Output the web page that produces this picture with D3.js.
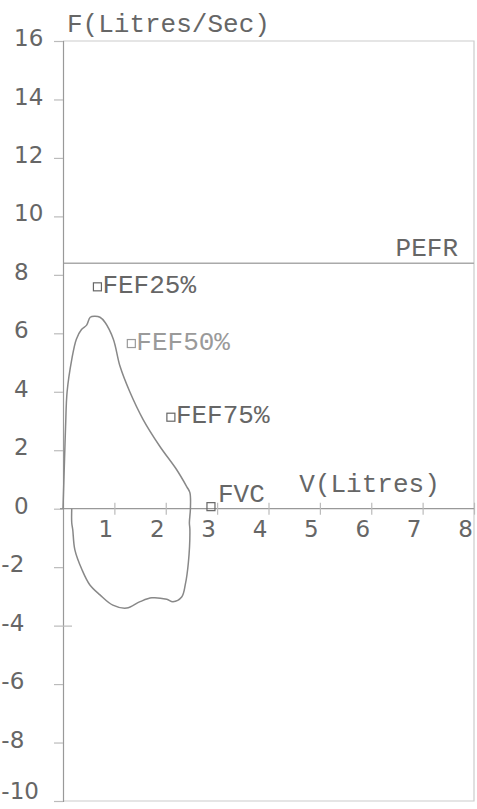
<!DOCTYPE html>
<html>
<head>
<meta charset="utf-8">
<script src="https://cdn.jsdelivr.net/npm/d3@7"></script>
<style>
  html, body { margin: 0; padding: 0; background: #fff; }
  svg { display: block; }
</style>
</head>
<body>
<div id="chart"></div>
<script>
// ---- data ----
const xTicks = [1, 2, 3, 4, 5, 6, 7, 8];
const yTicks = [16, 14, 12, 10, 8, 6, 4, 2, 0, -2, -4, -6, -8, -10];
const xDomain = [0, 8];
const yDomain = [-10, 16];

// expiratory limb (V litres, F litres/sec)
const expV = [0, 0.03, 0.05, 0.08, 0.17, 0.26, 0.36, 0.46, 0.53, 0.62, 0.72, 0.82, 0.98, 1.11, 1.30, 1.56, 1.89, 2.21, 2.41, 2.47, 2.48];
const expF = [0, 1.7, 2.8, 4.0, 5.1, 5.8, 6.13, 6.28, 6.55, 6.58, 6.55, 6.37, 5.8, 4.87, 4.0, 3.05, 2.12, 1.34, 0.75, 0.55, 0];
// inspiratory limb
const inspV = [2.48, 2.46, 2.47, 2.44, 2.38, 2.31, 2.14, 2.02, 1.73, 1.50, 1.24, 0.97, 0.72, 0.52, 0.37, 0.23, 0.19, 0.17, 0.17];
const inspF = [0, -0.48, -0.72, -1.85, -2.6, -3.02, -3.18, -3.1, -3.05, -3.18, -3.4, -3.3, -2.95, -2.6, -2.09, -1.4, -0.72, -0.48, 0];

const pefr = 8.4;
const markerNames = ["FEF25%", "FEF50%", "FEF75%", "FVC"];
const markerV = [0.67, 1.33, 2.10, 2.88];
const markerF = [7.59, 5.65, 3.13, 0.07];

// ---- drawing ----
const W = 477, H = 809;
const svg = d3.select("#chart").append("svg").attr("width", W).attr("height", H);

const x = d3.scaleLinear().domain(xDomain).range([63, 474]);
const y = d3.scaleLinear().domain(yDomain).range([801, 41]);

const textCol = "#666";
const mono = "'Liberation Mono', 'Courier New', monospace";
const sans = "'DejaVu Sans', sans-serif";
const monoSize = "26px";

// frame (top, right, bottom)
svg.append("path")
  .attr("d", `M${x(0)},${y(16)}H${x(8)}V${y(-10)}H${x(0)}`)
  .attr("fill", "none").attr("stroke", "#ccc").attr("stroke-width", 1.2);

// PEFR line
svg.append("line")
  .attr("x1", x(0)).attr("x2", x(8))
  .attr("y1", y(pefr)).attr("y2", y(pefr))
  .attr("stroke", "#aaa").attr("stroke-width", 1.5);

// Y axis
const yAxis = d3.axisLeft(y).tickValues(yTicks).tickSize(9).tickPadding(10)
  .tickFormat(d => (d < 0 ? "-" : "") + Math.abs(d));
const gy = svg.append("g").attr("transform", `translate(${x(0)},0)`).call(yAxis);
gy.select(".domain").attr("stroke", "#999").attr("stroke-width", 1.2);
gy.selectAll(".tick line").attr("stroke", "#bbb").attr("stroke-width", 1.2)
  .attr("x2", d => d === -4 ? 9 : -9).attr("x1", d => d === -4 ? -9 : 0);
gy.selectAll(".tick text")
  .attr("text-anchor", "start")
  .attr("x", 14 - x(0))
  .attr("dx", d => d < 0 ? "-0.55em" : 0)
  .attr("dy", d => d === yDomain[0] ? "-0.12em" : "0.2em")
  .attr("fill", "#666")
  .style("font-family", sans).style("font-size", "23px");

// X axis
const xAxis = d3.axisBottom(x).tickValues(xTicks).tickSize(6).tickPadding(5)
  .tickFormat(d => String(d));
const gx = svg.append("g").attr("transform", `translate(0,${y(0)})`).call(xAxis);
gx.select(".domain").attr("d", `M${x(0) - 3},0H${x(8)}`).attr("stroke", "#999").attr("stroke-width", 1.2);
gx.selectAll(".tick line").attr("y1", -6).attr("y2", 6).attr("stroke", "#bbb").attr("stroke-width", 1.2);
gx.selectAll(".tick text")
  .attr("x", -9).attr("y", 11).attr("dy", "0.75em")
  .attr("fill", "#666")
  .style("font-family", sans).style("font-size", "23px");

// flow-volume curve
const pts = expV.map((v, i) => [v, expF[i]]).concat(inspV.slice(1).map((v, i) => [v, inspF[i + 1]]));
const line = d3.line().x(d => x(d[0])).y(d => y(d[1])).curve(d3.curveCatmullRom.alpha(0.5));
svg.append("path").attr("d", line(pts))
  .attr("fill", "none").attr("stroke", "#888").attr("stroke-width", 1.5);

// markers and labels
const mk = svg.append("g");
markerNames.forEach((name, i) => {
  const cx = x(markerV[i]), cy = y(markerF[i]);
  const col = name === "FEF50%" ? "#9a9a9a" : textCol;
  mk.append("rect").attr("x", cx - 4).attr("y", cy - 4).attr("width", 8).attr("height", 8)
    .attr("fill", "none").attr("stroke", col).attr("stroke-width", 1.2);
  mk.append("text")
    .attr("x", cx + (name === "FVC" ? 7 : 5))
    .attr("y", cy + (name === "FVC" ? -5 : 6))
    .attr("fill", col)
    .style("font-family", mono).style("font-size", monoSize)
    .text(name);
});

// axis titles
svg.append("text").attr("x", x(0) + 4).attr("y", y(16) - 9)
  .attr("fill", textCol).style("font-family", mono).style("font-size", monoSize)
  .text("F(Litres/Sec)");
svg.append("text").attr("x", x(4.6)).attr("y", y(0) - 17)
  .attr("fill", textCol).style("font-family", mono).style("font-size", monoSize)
  .text("V(Litres)");
svg.append("text").attr("x", x(8) - 16).attr("y", y(pefr) - 7)
  .attr("text-anchor", "end")
  .attr("fill", textCol).style("font-family", mono).style("font-size", monoSize)
  .text("PEFR");
</script>
</body>
</html>
